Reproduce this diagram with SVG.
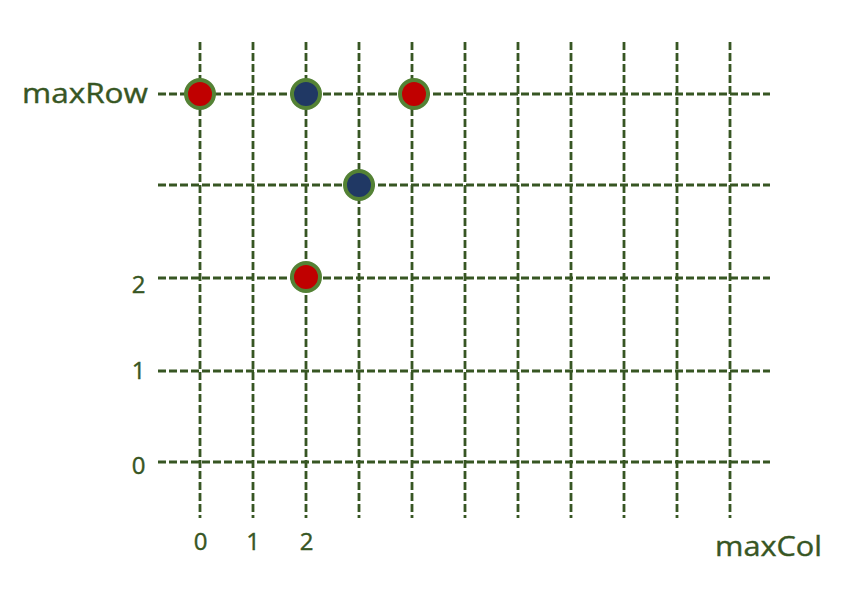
<svg xmlns="http://www.w3.org/2000/svg" width="858" height="601" viewBox="0 0 858 601">
<style>
.g{stroke:#375623;stroke-width:2.8;stroke-dasharray:8 3;fill:none}
.t{fill:#375623;stroke:#375623;stroke-width:0.4;font-family:"Open Sans","Noto Sans","Liberation Sans",sans-serif}
.big{font-size:28px}
.num{font-size:24px;text-anchor:middle}
.pt{stroke:#548235;stroke-width:4}
.red{fill:#C00000}
.navy{fill:#203864}
</style>
<rect width="858" height="601" fill="#fff"/>
<g id="grid">
<path class="g" d="M200 42V518M253 42V518M306 42V518M359 42V518M412 42V518M465 42V518M518 42V518M571 42V518M624 42V518M677 42V518M730 42V518"/>
<path class="g" d="M158 94H770M158 185H770M158 278H770M158 371H770M158 462H770"/>
</g>
<g id="labels">
<text class="t big" x="22" y="103" textLength="126" lengthAdjust="spacingAndGlyphs">maxRow</text>
<text class="t num" x="138.5" y="293">2</text>
<text class="t num" x="138.5" y="379">1</text>
<text class="t num" x="138.5" y="474">0</text>
<text class="t num" x="200.5" y="550">0</text>
<text class="t num" x="253" y="550">1</text>
<text class="t num" x="306.5" y="550">2</text>
<text class="t big" x="715" y="556" textLength="107" lengthAdjust="spacingAndGlyphs">maxCol</text>
</g>
<g id="p1"><circle class="pt red" cx="200" cy="94" r="14"/></g>
<g id="p2"><circle class="pt navy" cx="306" cy="94" r="14"/></g>
<g id="p3"><circle class="pt red" cx="414" cy="94" r="14"/></g>
<g id="p4"><circle class="pt navy" cx="359" cy="185" r="14"/></g>
<g id="p5"><circle class="pt red" cx="306" cy="277" r="14"/></g>
</svg>
